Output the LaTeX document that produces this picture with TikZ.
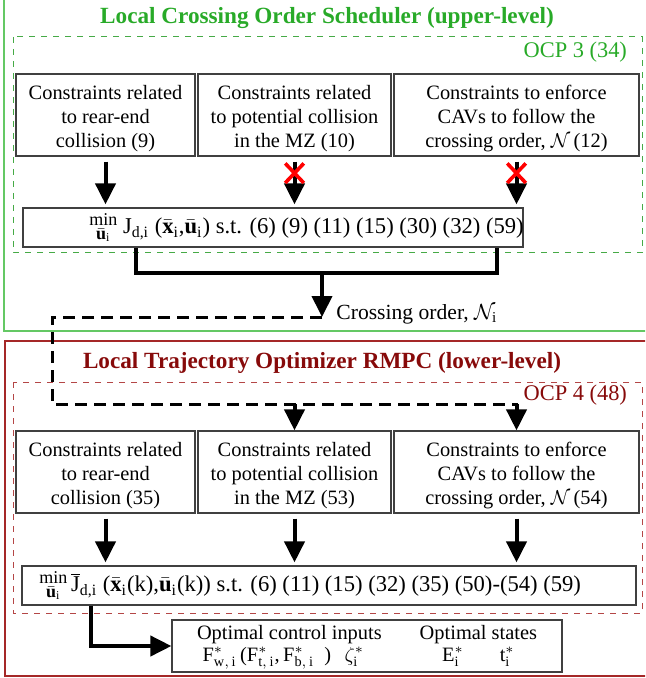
\documentclass[tikz,border=0pt]{standalone}
\usepackage{fontspec}
\setmainfont{Liberation Serif}
\usetikzlibrary{arrows.meta}
\usetikzlibrary{shapes.misc}

\definecolor{upgreen}{RGB}{40,170,40}
\definecolor{framegreen}{RGB}{100,200,100}
\definecolor{dashgreen}{RGB}{70,170,70}
\definecolor{lowred}{RGB}{135,10,10}
\definecolor{framered}{RGB}{165,40,40}
\definecolor{dashred}{RGB}{180,70,70}

\newcommand{\boxfont}{\fontsize{10.2}{12}\selectfont}
\newcommand{\minfont}{\fontsize{11.3}{13}\selectfont}
\newcommand{\tstrut}{\rule{0pt}{11pt}}
\newcommand{\minu}{\raisebox{-3pt}{\shortstack{{\small min}\\[-1pt]{\small$\bar{\mathbf{u}}_\mathrm{i}$}}}}

\tikzset{
  cbox/.style={draw=black!75, line width=0.6pt, minimum height=41pt, inner sep=0pt, align=center, font=\boxfont},
  mbox/.style={draw=black!75, line width=0.6pt, minimum height=19.5pt, inner sep=0pt},
  mtext/.style={inner sep=0pt, font=\minfont},
  obox/.style={draw=black!75, line width=0.6pt, minimum width=195pt, minimum height=26pt, inner sep=0pt, font=\boxfont},
  bigarrow/.style={line width=2pt, -{Triangle[length=10.5pt,width=10pt]}},
  thkline/.style={line width=2pt},
  dashline/.style={line width=1.5pt, dash pattern=on 6pt off 3.5pt},
  nox/.style={cross out, draw=red, line width=1.8pt, minimum width=7.5pt, minimum height=8pt, inner sep=0pt},
  leveltitle/.style={font=\fontsize{11.6}{14}\selectfont\bfseries},
  ocp/.style={anchor=east, font=\fontsize{11.2}{13}\selectfont}
}

\begin{document}
\begin{tikzpicture}[x=0.5pt,y=-0.5pt]
	\clip (0,0) rectangle (645,678);
	\draw[framegreen, line width=0.6pt] (4,-10) rectangle (660,331);
	\draw[framered, line width=0.6pt] (5,341) rectangle (660,676);
	\draw[dashgreen, line width=0.5pt, dashed] (13,37) rectangle (642,253);
	\draw[dashred, line width=0.5pt, dashed] (13,382) rectangle (642,613);

	\node[leveltitle, text=upgreen] (uptitle) at (327,18) {Local Crossing Order Scheduler (upper-level)};
	\node[ocp, text=upgreen] (ocp3) at (634,52) {OCP 3 (34)};

	\node[cbox, minimum width=89.5pt] (c1) at (105.5,115) {\tstrut Constraints related\\to rear-end\\collision (9)};
	\node[cbox, minimum width=96.5pt] (c2) at (294.5,115) {\tstrut Constraints related\\to potential collision\\in the MZ (10)};
	\node[cbox, minimum width=122.5pt] (c3) at (516.5,115) {\tstrut Constraints to enforce\\CAVs to follow the\\crossing order, $\mathcal{N}$\,(12)};

	\node[mbox, minimum width=250pt] (m1) at (273,227.5) {};
	\node[mtext, anchor=west] (f1) at (89,227.5) {\minu\ J\textsubscript{d,i} ($\bar{\mathbf{x}}_\mathrm{i}$,$\bar{\mathbf{u}}_\mathrm{i}$) s.t. (6) (9) (11) (15) (30) (32) (59)};

	\draw[bigarrow] ([yshift=-2.5pt]c1.south) -- ([yshift=1.5pt]c1.south |- m1.north);
	\draw[bigarrow] ([yshift=-2.5pt]c2.south) -- node[pos=0.27, nox] (x2) {} ([yshift=1.5pt]c2.south |- m1.north);
	\draw[bigarrow] ([yshift=-2.5pt]c3.south) -- node[pos=0.27, nox] (x3) {} ([yshift=1.5pt]c3.south |- m1.north);

	\coordinate (join) at (322,273);
	\coordinate (order) at (322,317);
	\draw[thkline] ([xshift=-68.5pt]m1.south) |- (join) -| ([xshift=112pt]m1.south);
	\draw[bigarrow] (join) -- (order);
	\node[anchor=west, inner sep=0pt, font=\fontsize{10.8}{13}\selectfont] (orderlbl) at ([xshift=7pt,yshift=1.5pt]order) {Crossing order, $\mathcal{N}_\mathrm{i}$};

	\node[leveltitle, text=lowred] (lowtitle) at (322,363) {Local Trajectory Optimizer RMPC (lower-level)};
	\node[ocp, text=lowred] (ocp4) at (634,395) {OCP 4 (48)};

	\node[cbox, minimum width=89.5pt] (c4) at (105.5,472) {\tstrut Constraints related\\to rear-end\\collision (35)};
	\node[cbox, minimum width=96.5pt] (c5) at (294.5,472) {\tstrut Constraints related\\to potential collision\\in the MZ (53)};
	\node[cbox, minimum width=122.5pt] (c6) at (516.5,472) {\tstrut Constraints to enforce\\CAVs to follow the\\crossing order, $\mathcal{N}$\,(54)};

	\coordinate (dl) at (52,404);
	\coordinate (dr) at (518,404);
	\draw[dashline] (order) -| (dl) -- (dr);
	\draw[bigarrow] (c5.north |- dr) -- (c5.north);
	\draw[bigarrow] (c6.north |- dr) -- (c6.north);

	\node[mbox, minimum width=307pt] (m2) at (329,585.5) {};
	\node[mtext, anchor=west] (f2) at (39,585.5) {\minu\,$\overline{\mbox{J}}$\textsubscript{d,i} ($\bar{\mathbf{x}}_\mathrm{i}$(k),$\bar{\mathbf{u}}_\mathrm{i}$(k)) s.t. (6) (11) (15) (32) (35) (50)-(54) (59)};

	\draw[bigarrow] ([yshift=-2.5pt]c4.south) -- ([yshift=1.5pt]c4.south |- m2.north);
	\draw[bigarrow] ([yshift=-2.5pt]c5.south) -- ([yshift=1.5pt]c5.south |- m2.north);
	\draw[bigarrow] ([yshift=-2.5pt]c6.south) -- ([yshift=1.5pt]c6.south |- m2.north);

	\node[obox] (out) at (367,646) {\begin{tabular}{@{}c@{\hspace{19pt}}c@{}}
		Optimal control inputs & Optimal states\\[-1pt]
		$\mathrm{F}^{*}_{\mathrm{w,\,i}}$\,($\mathrm{F}^{*}_{\mathrm{t,\,i}}$,\,$\mathrm{F}^{*}_{\mathrm{b,\,i}}$\ \ )\ \ \,$\zeta^{*}_{\mathrm{i}}$\hspace{6pt} & $\mathrm{E}^{*}_{\mathrm{i}}$\hspace{18pt}$\mathrm{t}^{*}_{\mathrm{i}}$
	\end{tabular}};
	\draw[bigarrow] ([xshift=-119pt]m2.south) |- (out.west);
\end{tikzpicture}
\end{document}
